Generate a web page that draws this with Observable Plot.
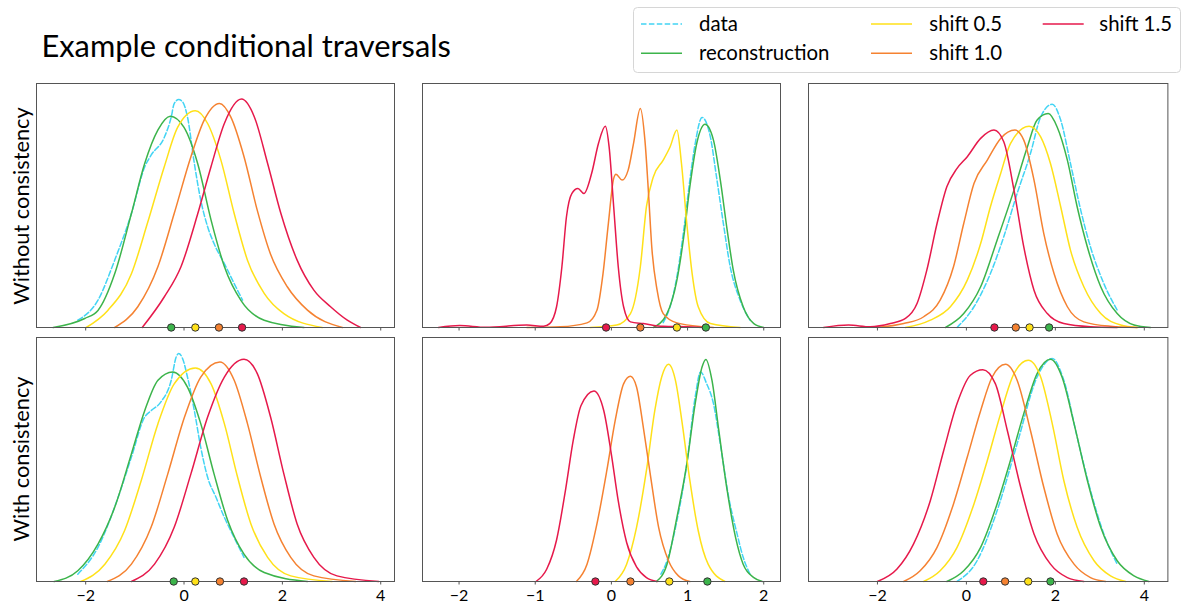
<!DOCTYPE html>
<html><head><meta charset="utf-8">
<script src="https://cdn.jsdelivr.net/npm/d3@7"></script>
<script src="https://cdn.jsdelivr.net/npm/@observablehq/plot@0.6"></script>
<style>
body{margin:0;background:#fff;}
#root{position:relative;width:1183px;height:606px;overflow:hidden;background:#fff;font-family:Lato,sans-serif;}
#root > svg{position:absolute;}
</style></head><body><div id="root"></div>
<script>
// ---------- data ----------
const seriesNames = ["data", "reconstruction", "shift 0.5", "shift 1.0", "shift 1.5"];
const seriesColors = ["#42d4f4", "#3cb44b", "#ffe119", "#f58231", "#e6194b"];
const rowLabels = ["Without consistency", "With consistency"];
const titleText = "Example conditional traversals";
const xTicks = [[-2, 0, 2, 4], [-2, -1, 0, 1, 2], [-2, 0, 2, 4]];
const xTickLabels = [["−2", "0", "2", "4"], ["−2", "−1", "0", "1", "2"], ["−2", "0", "2", "4"]];
const xDomains = [[-3.0, 4.28], [-2.48, 2.22], [-3.55, 4.53]];

// Row 1 (without consistency), column 1
const top1_data = [[-2.16,0.03],[-1.75,0.112],[-1.41,0.276],[-1.07,0.467],[-0.80,0.658],[-0.67,0.706],[-0.40,0.78],[-0.26,0.863],[-0.20,0.918],[-0.11,0.934],[-0.03,0.925],[0.07,0.863],[0.21,0.672],[0.34,0.522],[0.48,0.413],[0.61,0.344],[0.82,0.262],[1.02,0.18],[1.19,0.112]];
const top1_recon = [[-2.66,0],[-2.02,0.037],[-1.75,0.07],[-1.41,0.22],[-1.07,0.467],[-0.80,0.672],[-0.53,0.81],[-0.28,0.866],[0,0.82],[0.28,0.67],[0.55,0.44],[0.82,0.25],[1.16,0.11],[1.63,0.03],[2.44,0]];
const top1_s05 = [[-1.99,0],[-1.55,0.07],[-1.07,0.22],[-0.74,0.43],[-0.40,0.66],[-0.13,0.82],[0.23,0.888],[0.48,0.836],[0.75,0.686],[1.02,0.467],[1.29,0.276],[1.63,0.14],[2.03,0.057],[2.81,0]];
const top1_s10 = [[-1.41,0],[-0.94,0.085],[-0.53,0.25],[-0.20,0.467],[0.14,0.70],[0.41,0.85],[0.72,0.918],[0.95,0.863],[1.22,0.70],[1.49,0.48],[1.76,0.30],[2.10,0.167],[2.51,0.071],[3.22,0]];
const top1_s15 = [[-0.85,0],[-0.40,0.126],[-0.06,0.25],[0.28,0.467],[0.55,0.66],[0.82,0.836],[1.17,0.936],[1.43,0.863],[1.70,0.672],[1.97,0.467],[2.30,0.276],[2.64,0.153],[2.98,0.085],[3.32,0.03],[3.59,0]];
const top1_means = [-0.26, 0.23, 0.71, 1.18];

// Row 1, column 2
const top2_data = [[0.68,0.02],[0.77,0.085],[0.86,0.208],[0.95,0.40],[1.03,0.604],[1.10,0.754],[1.19,0.861],[1.30,0.78],[1.38,0.617],[1.47,0.426],[1.56,0.249],[1.69,0.112],[1.82,0.03]];
const top2_recon = [[0.55,0],[0.73,0.057],[0.86,0.194],[0.95,0.372],[1.03,0.577],[1.12,0.754],[1.23,0.833],[1.34,0.768],[1.43,0.604],[1.52,0.399],[1.60,0.235],[1.73,0.085],[1.87,0.016],[2.0,0]];
const top2_s05 = [[-0.28,0],[0.07,0.01],[0.25,0.057],[0.38,0.249],[0.46,0.495],[0.55,0.617],[0.68,0.686],[0.77,0.74],[0.86,0.809],[0.92,0.672],[0.99,0.426],[1.06,0.221],[1.14,0.085],[1.30,0.016],[1.69,0]];
const top2_s10 = [[-1.11,0],[-0.67,0.003],[-0.32,0.019],[-0.19,0.071],[-0.11,0.221],[-0.04,0.426],[0.03,0.611],[0.06,0.628],[0.14,0.604],[0.22,0.645],[0.29,0.754],[0.38,0.898],[0.44,0.768],[0.49,0.536],[0.53,0.33],[0.60,0.153],[0.68,0.057],[0.86,0.019],[1.21,0.003],[1.34,0]];
const top2_s15 = [[-2.27,0],[-1.99,0.008],[-1.65,0.001],[-1.11,0.01],[-0.89,0.005],[-0.81,0.016],[-0.72,0.085],[-0.65,0.249],[-0.59,0.454],[-0.52,0.549],[-0.44,0.57],[-0.36,0.549],[-0.26,0.631],[-0.17,0.754],[-0.08,0.825],[-0.03,0.74],[0.03,0.495],[0.09,0.249],[0.16,0.085],[0.25,0.023],[0.42,0.016],[0.68,0.005],[0.99,0.003],[1.21,0]];
const top2_means = [1.24, 0.86, 0.38, -0.07];

// Row 1, column 3
const top3_data = [[-0.21,0.0],[0.17,0.085],[0.54,0.221],[0.84,0.372],[1.14,0.549],[1.44,0.713],[1.67,0.863],[1.93,0.915],[2.12,0.85],[2.34,0.672],[2.57,0.481],[2.79,0.33],[3.09,0.18],[3.39,0.071]];
const top3_recon = [[-0.47,0],[-0.06,0.057],[0.32,0.167],[0.69,0.358],[1.07,0.563],[1.37,0.74],[1.59,0.85],[1.84,0.877],[2.04,0.822],[2.27,0.686],[2.49,0.495],[2.72,0.33],[3.02,0.167],[3.39,0.057],[3.77,0.01],[4.14,0]];
const top3_s05 = [[-1.37,0],[-0.81,0.03],[-0.36,0.085],[0.02,0.194],[0.32,0.344],[0.54,0.495],[0.77,0.631],[0.99,0.754],[1.41,0.825],[1.67,0.781],[1.89,0.672],[2.12,0.495],[2.34,0.317],[2.64,0.167],[3.02,0.057],[3.47,0.01],[3.84,0]];
const top3_s10 = [[-2.01,0],[-1.41,0.016],[-0.96,0.044],[-0.59,0.112],[-0.29,0.249],[-0.06,0.426],[0.17,0.59],[0.47,0.686],[0.77,0.775],[1.09,0.809],[1.29,0.768],[1.52,0.604],[1.74,0.385],[1.97,0.221],[2.27,0.085],[2.64,0.023],[3.24,0.005],[3.84,0]];
const top3_s15 = [[-3.21,0],[-2.65,0.01],[-2.16,0.003],[-1.71,0.016],[-1.37,0.037],[-1.11,0.098],[-0.89,0.235],[-0.66,0.426],[-0.44,0.577],[-0.21,0.652],[0.02,0.70],[0.32,0.775],[0.62,0.809],[0.84,0.761],[1.07,0.563],[1.29,0.33],[1.52,0.153],[1.82,0.057],[2.19,0.016],[2.79,0.003],[3.39,0]];
const top3_means = [1.86, 1.42, 1.11, 0.63];

// Row 2 (with consistency), column 1
const bot1_data = [[-2.16,0.03],[-1.75,0.14],[-1.34,0.345],[-1.07,0.51],[-0.80,0.674],[-0.67,0.70],[-0.47,0.736],[-0.26,0.825],[-0.16,0.92],[-0.11,0.934],[-0.03,0.914],[0.07,0.838],[0.21,0.70],[0.34,0.55],[0.48,0.427],[0.65,0.345],[0.82,0.263],[1.02,0.18],[1.22,0.099]];
const bot1_recon = [[-2.64,0],[-2.16,0.044],[-1.75,0.153],[-1.41,0.304],[-1.07,0.523],[-0.80,0.70],[-0.53,0.825],[-0.23,0.859],[0.07,0.797],[0.34,0.647],[0.61,0.441],[0.89,0.249],[1.22,0.112],[1.63,0.037],[2.51,0]];
const bot1_s05 = [[-2.10,0],[-1.61,0.071],[-1.21,0.208],[-0.87,0.414],[-0.53,0.647],[-0.20,0.81],[0.23,0.875],[0.55,0.81],[0.82,0.647],[1.09,0.427],[1.36,0.236],[1.70,0.099],[2.17,0.023],[3.01,0]];
const bot1_s10 = [[-1.56,0],[-1.07,0.071],[-0.67,0.222],[-0.33,0.441],[0.01,0.674],[0.34,0.838],[0.73,0.90],[1.02,0.825],[1.29,0.647],[1.56,0.427],[1.83,0.236],[2.17,0.099],[2.64,0.023],[3.49,0]];
const bot1_s15 = [[-1.07,0],[-0.60,0.071],[-0.20,0.222],[0.14,0.441],[0.48,0.674],[0.82,0.838],[1.22,0.911],[1.49,0.852],[1.76,0.674],[2.03,0.441],[2.30,0.236],[2.64,0.099],[3.11,0.023],[3.96,0]];
const bot1_means = [-0.21, 0.23, 0.73, 1.22];

// Row 2, column 2
const bot2_data = [[0.65,0.03],[0.73,0.085],[0.86,0.249],[0.99,0.482],[1.10,0.756],[1.17,0.859],[1.25,0.811],[1.34,0.729],[1.43,0.563],[1.54,0.345],[1.65,0.195],[1.73,0.099],[1.82,0.03]];
const bot2_recon = [[0.59,0],[0.73,0.071],[0.86,0.263],[0.99,0.482],[1.10,0.729],[1.19,0.879],[1.24,0.91],[1.32,0.825],[1.41,0.619],[1.52,0.373],[1.63,0.181],[1.73,0.071],[1.87,0.016],[1.98,0]];
const bot2_s05 = [[0.05,0],[0.20,0.071],[0.33,0.222],[0.46,0.455],[0.57,0.701],[0.66,0.838],[0.75,0.89],[0.84,0.825],[0.93,0.647],[1.03,0.414],[1.14,0.208],[1.27,0.071],[1.49,0]];
const bot2_s10 = [[-0.46,0],[-0.32,0.071],[-0.19,0.236],[-0.06,0.455],[0.05,0.66],[0.16,0.81],[0.25,0.841],[0.33,0.797],[0.42,0.63],[0.51,0.44],[0.62,0.222],[0.75,0.085],[0.88,0.023],[1.03,0]];
const bot2_s15 = [[-0.99,0],[-0.85,0.05],[-0.72,0.17],[-0.60,0.38],[-0.50,0.58],[-0.40,0.72],[-0.23,0.781],[-0.10,0.70],[0.0,0.52],[0.09,0.33],[0.20,0.16],[0.33,0.06],[0.46,0.016],[0.60,0]];
const bot2_means = [1.26, 0.76, 0.25, -0.21];

// Row 2, column 3
const bot3_data = [[-0.21,0.0],[0.24,0.085],[0.69,0.29],[1.14,0.564],[1.59,0.838],[1.93,0.914],[2.19,0.825],[2.49,0.592],[2.79,0.373],[3.09,0.195],[3.39,0.071]];
const bot3_recon = [[-0.44,0],[-0.06,0.044],[0.32,0.14],[0.69,0.318],[0.99,0.496],[1.29,0.688],[1.59,0.852],[1.89,0.911],[2.15,0.838],[2.42,0.647],[2.72,0.414],[3.02,0.222],[3.39,0.085],[3.77,0.023],[4.10,0]];
const bot3_s05 = [[-0.96,0],[-0.59,0.044],[-0.21,0.14],[0.17,0.318],[0.47,0.496],[0.77,0.688],[1.07,0.852],[1.39,0.907],[1.67,0.838],[1.93,0.647],[2.19,0.414],[2.49,0.222],[2.87,0.085],[3.24,0.023],[3.58,0]];
const bot3_s10 = [[-1.41,0],[-1.04,0.044],[-0.66,0.14],[-0.29,0.318],[0.02,0.51],[0.32,0.70],[0.58,0.838],[0.88,0.89],[1.14,0.825],[1.44,0.619],[1.74,0.386],[2.04,0.195],[2.42,0.071],[2.79,0.016],[3.13,0]];
const bot3_s15 = [[-2.0,0],[-1.56,0.051],[-1.19,0.153],[-0.81,0.332],[-0.51,0.537],[-0.21,0.729],[0.09,0.845],[0.37,0.868],[0.65,0.811],[0.92,0.619],[1.22,0.386],[1.52,0.195],[1.89,0.071],[2.27,0.016],[2.64,0]];
const bot3_means = [1.89, 1.39, 0.87, 0.38];

// ---------- layout ----------
const root = document.getElementById("root");
const FONT = "Lato, sans-serif";
const panelLeft = [36, 422.3, 808.3];
const panelWidth = [358, 358, 359.4];
const panelTop = [83.3, 337.3];
const PH = 244;
const M = {l: 6, r: 6, t: 6, b: 28};

const panels = [
  [[top1_data, top1_recon, top1_s05, top1_s10, top1_s15, top1_means],
   [top2_data, top2_recon, top2_s05, top2_s10, top2_s15, top2_means],
   [top3_data, top3_recon, top3_s05, top3_s10, top3_s15, top3_means]],
  [[bot1_data, bot1_recon, bot1_s05, bot1_s10, bot1_s15, bot1_means],
   [bot2_data, bot2_recon, bot2_s05, bot2_s10, bot2_s15, bot2_means],
   [bot3_data, bot3_recon, bot3_s05, bot3_s10, bot3_s15, bot3_means]]
];

function makePanel(r, c) {
  const [dataPts, recon, s05, s10, s15, means] = panels[r][c];
  const shiftSeries = [recon, s05, s10, s15];
  const lineRows = [];
  shiftSeries.forEach((pts, k) => pts.forEach(([x, y]) => lineRows.push({x, y, s: seriesNames[k + 1]})));
  const dataRows = dataPts.map(([x, y]) => ({x, y, s: "data"}));
  const meanRows = means.map((m, k) => ({x: m, s: seriesNames[k + 1]}));
  const tickRows = xTicks[c].map((t, i) => ({x: t, label: xTickLabels[c][i]}));
  const marks = [
    Plot.line(dataRows, {x: "x", y: "y", stroke: seriesColors[0], strokeWidth: 1.5, strokeDasharray: "5.5,2.4", curve: "monotone-x"}),
    Plot.line(lineRows, {x: "x", y: "y", z: "s", stroke: "s", strokeWidth: 1.5, curve: "monotone-x"}),
    Plot.frame({stroke: "#555", strokeWidth: 1}),
    Plot.axisX({ticks: xTicks[c], tickSize: 3.5, label: null, tickFormat: () => "", stroke: "#555"}),
    Plot.dot(meanRows, {x: "x", y: () => 0, fill: "s", stroke: "#333", strokeWidth: 1, r: 3.7})
  ];
  if (r === 1) {
    marks.push(Plot.text(tickRows, {x: "x", y: () => 0, text: "label", dy: 14, fontSize: 16, fill: "#000", fontFamily: FONT}));
  }
  const plot = Plot.plot({
    width: panelWidth[c] + M.l + M.r,
    height: PH + M.t + M.b,
    marginLeft: M.l, marginRight: M.r, marginTop: M.t, marginBottom: M.b,
    x: {domain: xDomains[c]},
    y: {domain: [0, 1], axis: null},
    color: {domain: seriesNames, range: seriesColors},
    style: {background: "transparent", overflow: "visible", fontFamily: FONT, fontSize: "16px", color: "#000"},
    marks
  });
  plot.style.position = "absolute";
  plot.style.left = (panelLeft[c] - M.l) + "px";
  plot.style.top = (panelTop[r] - M.t) + "px";
  root.appendChild(plot);
}
for (let r = 0; r < 2; r++) for (let c = 0; c < 3; c++) makePanel(r, c);

// ---------- title, legend, row labels (text overlay) ----------
const ns = "http://www.w3.org/2000/svg";
const ov = document.createElementNS(ns, "svg");
ov.setAttribute("width", 1183); ov.setAttribute("height", 606);
ov.style.left = "0px"; ov.style.top = "0px"; ov.style.pointerEvents = "none";
ov.setAttribute("font-family", FONT);
root.appendChild(ov);
function el(tag, attrs, text) {
  const e = document.createElementNS(ns, tag);
  for (const k in attrs) e.setAttribute(k, attrs[k]);
  if (text != null) e.textContent = text;
  ov.appendChild(e);
  return e;
}
el("text", {x: 41.5, y: 57, "font-size": 30.8, fill: "#000"}, titleText);

// legend
el("rect", {x: 633.5, y: 7.5, width: 547, height: 65, rx: 4, fill: "#fff", stroke: "#d6d6d6", "stroke-width": 1});
const legCols = [[641, 699], [871, 929.3], [1042.7, 1099.3]];
const legRows = [24, 53.3];
const legPos = [[0, 0], [0, 1], [1, 0], [1, 1], [2, 0]];
seriesNames.forEach((name, k) => {
  const [ci, ri] = legPos[k];
  const [lx, tx] = legCols[ci];
  const y = legRows[ri];
  el("line", {x1: lx, x2: lx + 41, y1: y, y2: y, stroke: seriesColors[k], "stroke-width": 1.5,
    "stroke-dasharray": k === 0 ? "5.5,2.4" : "none"});
  el("text", {x: tx, y: y + 7, "font-size": 20.4, fill: "#000"}, name);
});

// row labels
const rowCenters = [206, 459];
rowLabels.forEach((lab, r) => {
  el("text", {x: 0, y: 0, "font-size": 21.8, fill: "#000", "text-anchor": "middle",
    transform: `translate(29,${rowCenters[r]}) rotate(-90)`}, lab);
});
</script></body></html>
